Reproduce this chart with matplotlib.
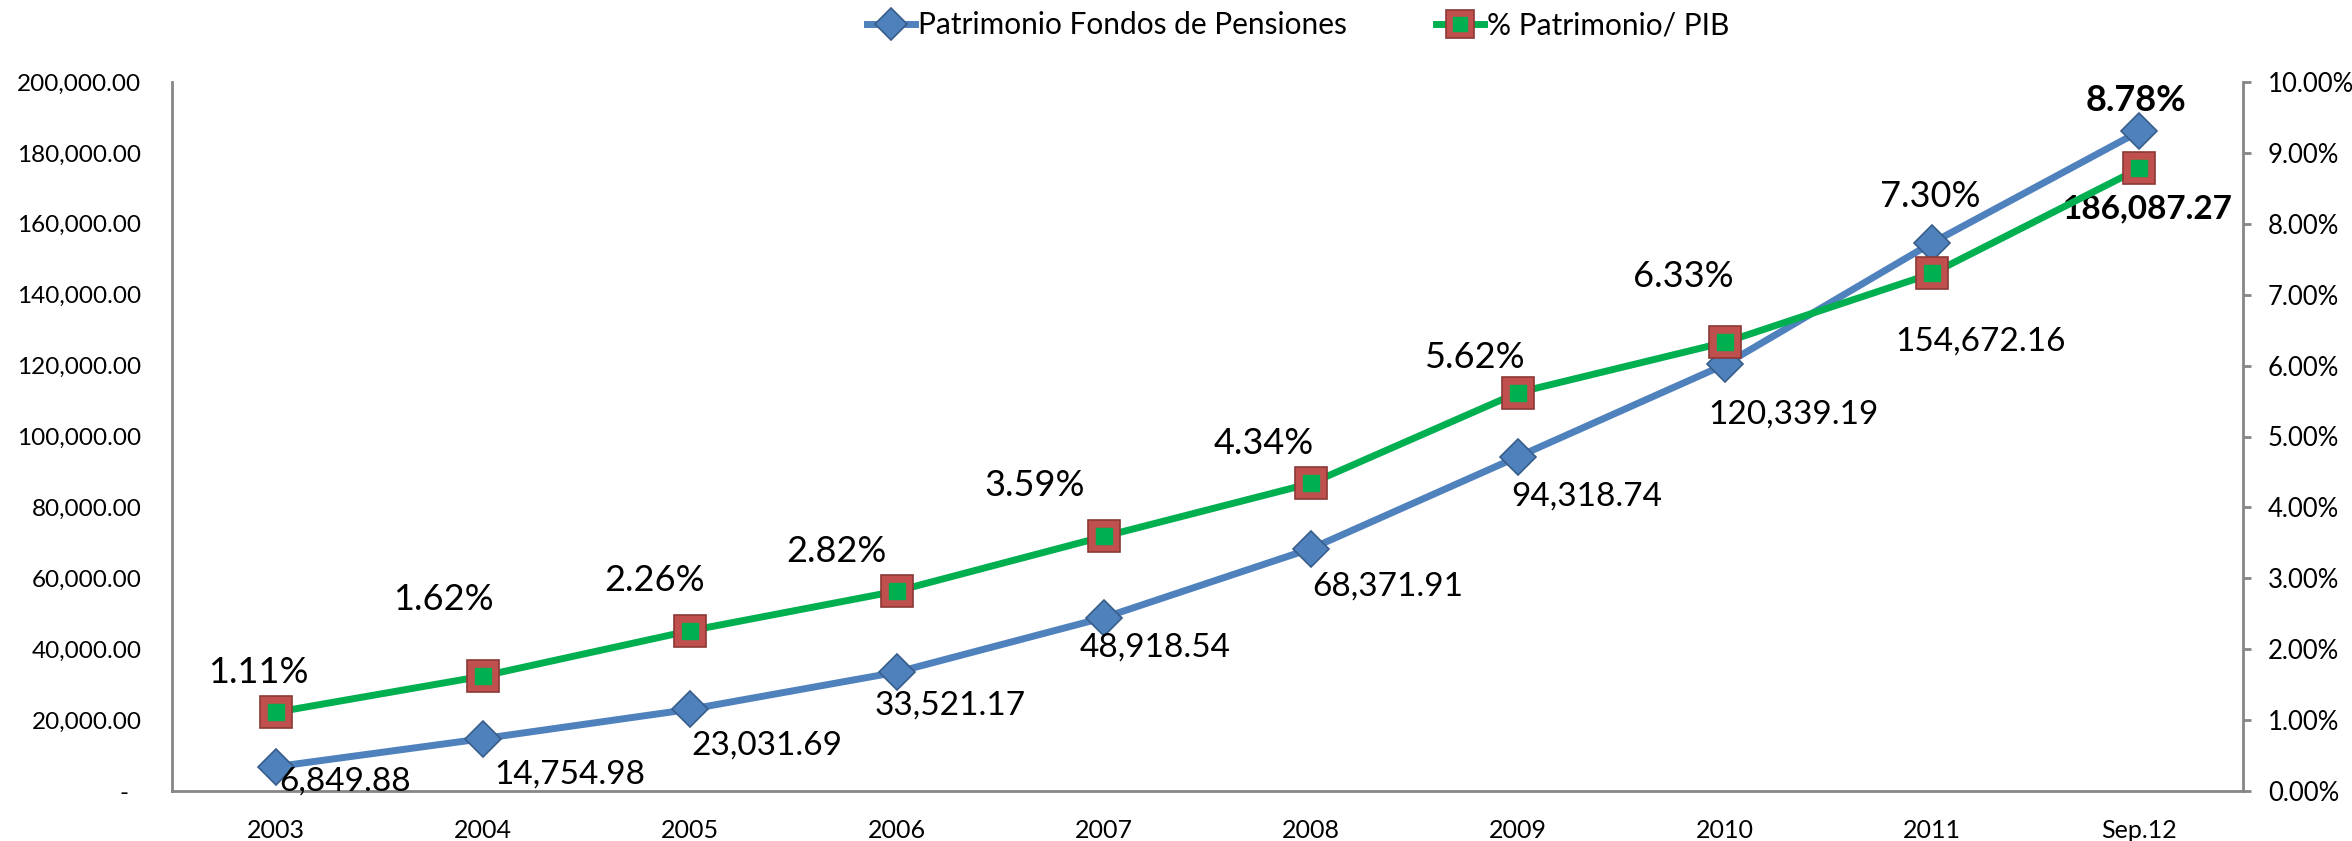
import numpy as np
from matplotlib import pyplot as plt
from matplotlib.ticker import FuncFormatter

plt.rcParams['font.family'] = ['Lato', 'DejaVu Sans']

years = ["2003", "2004", "2005", "2006", "2007", "2008", "2009", "2010", "2011", "Sep.12"]
patrimonio = [6849.88, 14754.98, 23031.69, 33521.17, 48918.54,
              68371.91, 94318.74, 120339.19, 154672.16, 186087.27]
pct_pib = [1.11, 1.62, 2.26, 2.82, 3.59, 4.34, 5.62, 6.33, 7.30, 8.78]

# label offsets in pixels (dx, dy) relative to each marker
blueOffsets = [(70, -15), (87, -36), (77, -36), (53, -33), (51, -30),
               (77, -38), (69, -40), (68, -50), (48, -99), (8, -77)]
greenOffsets = [(-17, 40), (-39, 77), (-35, 50), (-60, 40), (-69, 51),
                (-47, 40), (-44, 35), (-42, 66), (-2, 77), (-3, 68)]

BLUE = "#4F81BD"
BLUE_EDGE = "#385D8A"
GREEN = "#00B050"
RED = "#C0504D"
RED_EDGE = "#8C3836"
SPINE = "#868686"

fig = plt.figure(figsize=(23.52, 8.41), dpi=100)
ax = fig.add_axes([172 / 2352, 50 / 841, 2071 / 2352, 709 / 841])
ax2 = ax.twinx()

x = np.arange(len(years))

lineBlue, = ax.plot(x, patrimonio, color=BLUE, lw=5, marker="D", ms=18,
                    mfc=BLUE, mec=BLUE_EDGE, mew=1.2, zorder=3)
lineGreen, = ax2.plot(x, pct_pib, color=GREEN, lw=5, marker="s", ms=23,
                      mfc=RED, mec=RED_EDGE, mew=1.2, zorder=3)
inner, = ax2.plot(x, pct_pib, ls="none", marker="s", ms=11.5, mfc=GREEN,
                  mec=GREEN, zorder=4)

ax.set_xlim(-0.5, len(years) - 0.5)
ax.set_ylim(0, 200000)
ax2.set_ylim(0, 10)
ax.set_xticks(x)
ax.set_xticklabels(years)
ax.set_yticks(np.arange(0, 200001, 20000))
ax2.set_yticks(np.arange(0, 10.01, 1))

ax.yaxis.set_major_formatter(FuncFormatter(lambda v, p: "-  " if v == 0 else f"{v:,.2f}"))
ax2.yaxis.set_major_formatter(FuncFormatter(lambda v, p: f"{v:.2f}%"))

for a in (ax, ax2):
    for s in a.spines.values():
        s.set_visible(False)
ax.spines["left"].set_visible(True)
ax.spines["bottom"].set_visible(True)
ax2.spines["right"].set_visible(True)
for s in (ax.spines["left"], ax.spines["bottom"], ax2.spines["right"]):
    s.set_color(SPINE)
    s.set_linewidth(2)

ax.tick_params(axis="y", length=0, labelsize=17.5, pad=22)
ax.tick_params(axis="x", length=0, labelsize=18, pad=20)
ax2.tick_params(axis="y", length=6, width=2, color=SPINE, labelsize=18.5, pad=12)

for i in range(len(years)):
    last = i == len(years) - 1
    ax.annotate(f"{patrimonio[i]:,.2f}", (x[i], patrimonio[i]),
                xytext=blueOffsets[i], textcoords="offset pixels",
                ha="center", va="center", fontsize=24,
                fontweight="bold" if last else "normal")
    ax2.annotate(f"{pct_pib[i]:.2f}%", (x[i], pct_pib[i]),
                 xytext=greenOffsets[i], textcoords="offset pixels",
                 ha="center", va="center", fontsize=26,
                 fontweight="bold" if last else "normal")

fig.legend([lineBlue, (lineGreen, inner)],
           ["Patrimonio Fondos de Pensiones", "% Patrimonio/ PIB"],
           loc="center", bbox_to_anchor=(0.552, 0.970), ncol=2, frameon=False,
           fontsize=21.5, handlelength=1.6, handletextpad=0.1, columnspacing=3,
           markerscale=0.9)

plt.savefig("out.png", dpi=100)
